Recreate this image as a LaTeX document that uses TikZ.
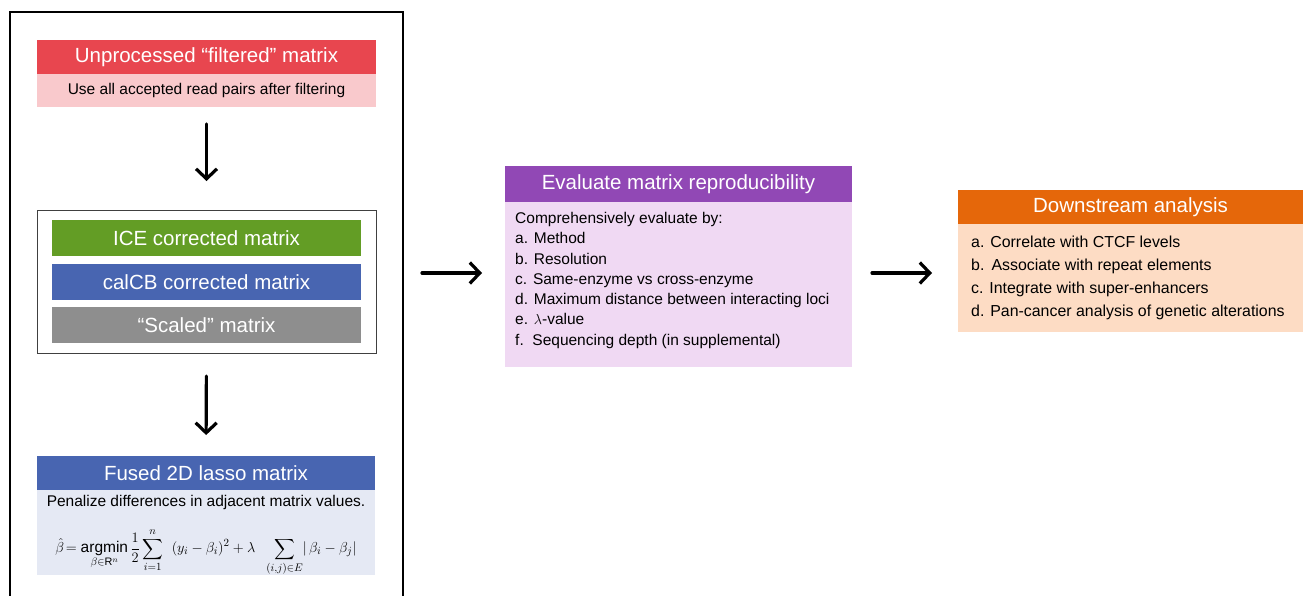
\documentclass[tikz,border=0pt]{standalone}
\usepackage{amsmath}
\usepackage{fontspec}
\setmainfont{Liberation Sans}
\usetikzlibrary{arrows.meta}
\definecolor{hdrred}{HTML}{E8464F}
\definecolor{subpink}{HTML}{F9C9CC}
\definecolor{icegreen}{HTML}{639D25}
\definecolor{cbblue}{HTML}{4865B1}
\definecolor{scgray}{HTML}{8E8E8E}
\definecolor{fusedsub}{HTML}{E5E9F4}
\definecolor{evpurple}{HTML}{9148B5}
\definecolor{evsub}{HTML}{F0D9F3}
\definecolor{dsorange}{HTML}{E5670A}
\definecolor{dssub}{HTML}{FDDCC4}
\begin{document}
\begin{tikzpicture}[x=1pt,y=-1pt,
 box/.style={rectangle,anchor=north west,inner sep=0pt,outer sep=0pt},
 hdr/.style={box,text=white,font=\fontsize{20.5}{24}\selectfont},
 sub/.style={box,font=\fontsize{15.5}{18}\selectfont},
 lst/.style={anchor=north west,inner sep=0pt,align=left},
 flow/.style={-{Straight Barb[length=10pt,width=21pt]},line width=3.2pt,line cap=round}]
\useasboundingbox (0,0) rectangle (1303,595);
% preprocessing stage
\node[box,draw=black,line width=1.8pt,minimum width=393pt,minimum height=620pt] (stage) at (10,12) {};
\node[hdr,fill=hdrred,minimum width=339pt,minimum height=34pt] (unp) at (37,40) {Unprocessed “filtered” matrix};
\node[sub,fill=subpink,minimum width=339pt,minimum height=33pt] (unpsub) at (37,74) {Use all accepted read pairs after filtering};
\node[box,draw=black!75,line width=0.9pt,minimum width=339pt,minimum height=143pt] (norm) at (37,210) {};
\node[hdr,fill=icegreen,minimum width=309pt,minimum height=36pt] (ice) at (52,220) {ICE corrected matrix};
\node[hdr,fill=cbblue,minimum width=309pt,minimum height=36pt] (calcb) at (52,264) {calCB corrected matrix};
\node[hdr,fill=scgray,minimum width=309pt,minimum height=36pt] (scaled) at (52,307) {“Scaled” matrix};
\node[hdr,fill=cbblue,minimum width=338pt,minimum height=34pt] (fused) at (37,456) {Fused 2D lasso matrix};
\node[box,fill=fusedsub,minimum width=338pt,minimum height=85pt] (fusedsub) at (37,490) {};
\node[sub,font=\fontsize{15.5}{15.5}\selectfont] (pen) at ([yshift=-5pt]fusedsub.north) [anchor=north] {Penalize differences in adjacent matrix values.};
\node[sub,anchor=center] (lasso) at ([yshift=-62pt]fusedsub.north) {$\displaystyle \hat{\beta}\!=\mathop{\mathrm{argmin}}\limits_{\beta\in \mathrm{R}^n}\frac{1}{2}\sum_{i=1}^{n}\ \ (y_i-\beta_i)^2+\lambda\ \ \sum_{(i,j)\in E}\lvert\,\beta_i-\beta_j\rvert$};
% evaluation
\node[hdr,fill=evpurple,minimum width=347pt,minimum height=36pt] (eval) at (505,166) {Evaluate matrix reproducibility};
\node[box,fill=evsub,minimum width=347pt,minimum height=165pt] (evalsub) at (505,202) {};
\node[lst,font=\fontsize{15.5}{20.3}\selectfont] (evallist) at (515,212) {Comprehensively evaluate by:\\
a. Method\\
b. Resolution\\
c. Same-enzyme vs cross-enzyme\\
d. Maximum distance between interacting loci\\
e. $\lambda$-value\\
f.\ \ Sequencing depth (in supplemental)};
% downstream
\node[hdr,fill=dsorange,minimum width=345pt,minimum height=34pt] (down) at (958,190) {Downstream analysis};
\node[box,fill=dssub,minimum width=345pt,minimum height=108pt] (downsub) at (958,224) {};
\node[lst,font=\fontsize{15.9}{23}\selectfont] (downlist) at (971,236) {a. Correlate with CTCF levels\\
b.\ \,Associate with repeat elements\\
c. Integrate with super-enhancers\\
d. Pan-cancer analysis of genetic alterations};
% connectors
\coordinate (row) at (0,273);
\draw[flow,shorten <=17pt,shorten >=29pt] (unpsub.south) -- (norm.north);
\draw[flow,shorten <=23pt,shorten >=21pt] (norm.south) -- (fused.north);
\draw[flow,shorten <=19pt,shorten >=23pt] (stage.east |- row) -- (evalsub.west |- row);
\draw[flow,shorten <=20pt,shorten >=26pt] (evalsub.east |- row) -- (downsub.west |- row);
\end{tikzpicture}
\end{document}
